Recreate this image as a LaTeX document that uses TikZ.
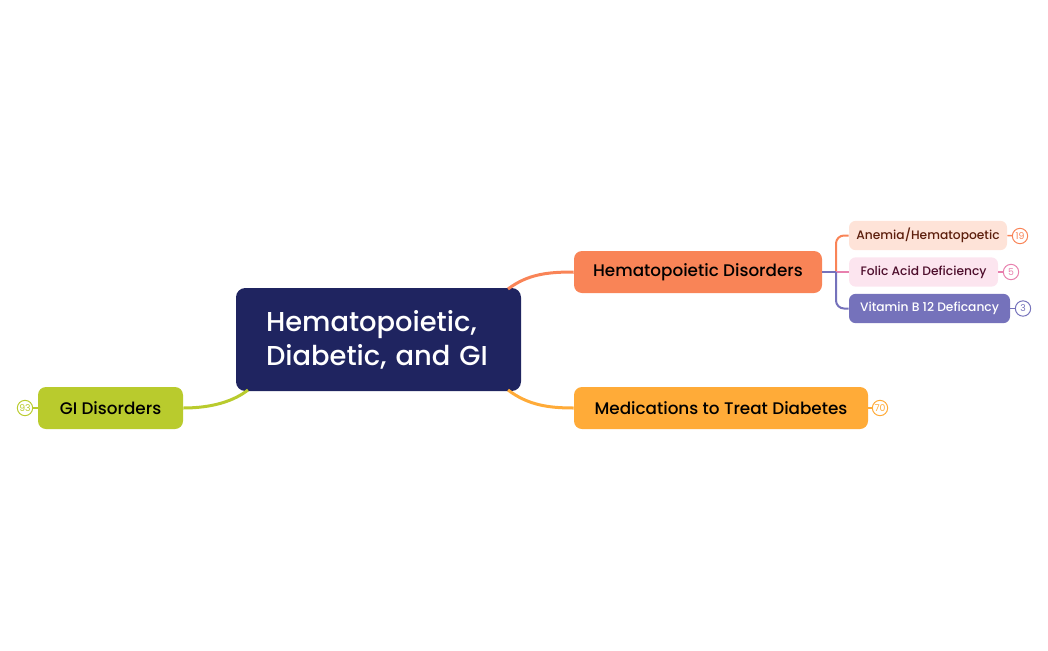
\documentclass[tikz,border=0pt]{standalone}
\usepackage{fontspec}
\setmainfont{Poppins}
\newfontfamily\mittel{Poppins Medium}
\definecolor{navy}{RGB}{31,36,96}
\definecolor{koralle}{RGB}{249,132,87}
\definecolor{orangeb}{RGB}{255,171,56}
\definecolor{limone}{RGB}{185,203,45}
\definecolor{pfirsich}{RGB}{254,227,216}
\definecolor{pfirsichtext}{RGB}{92,30,12}
\definecolor{rosa}{RGB}{252,229,239}
\definecolor{rosatext}{RGB}{77,13,43}
\definecolor{rosalinie}{RGB}{232,128,174}
\definecolor{lila}{RGB}{117,114,187}
\begin{document}
\begin{tikzpicture}[x=0.75pt,y=-0.75pt,
    haupt/.style={rounded corners=6pt,minimum height=31.5pt,inner xsep=0pt,font=\mittel\fontsize{12.6}{14}\selectfont},
    unter/.style={rounded corners=5pt,minimum height=22pt,inner xsep=0pt,font=\mittel\fontsize{9.2}{11}\selectfont},
    zahl/.style={circle,draw=#1,text=#1,line width=0.75pt,minimum size=11.5pt,inner sep=0pt,fill=white,font=\fontsize{7}{8}\selectfont},
    ast/.style={draw=#1,line width=2.25pt},
    zweig/.style={draw=#1,line width=1.5pt,rounded corners=6pt}]
    \useasboundingbox (0,0) rectangle (1048,650);
    % Mitte
    \node[fill=navy,text=white,rounded corners=7pt,minimum width=213.75pt,minimum height=77.25pt,
      text width=168.75pt,inner xsep=22.5pt,align=left,font=\mittel\fontsize{20.5}{25.5}\selectfont]
      (mitte) at (378.5,339.5) {Hematopoietic,\\Diabetic, and GI};
    % Hauptaeste
    \node[haupt,fill=koralle,minimum width=186pt] (hem) at (698,272) {Hematopoietic Disorders};
    \node[haupt,fill=orangeb,minimum width=220.5pt] (med) at (721,408) {Medications to Treat Diabetes};
    \node[haupt,fill=limone,minimum width=108.75pt] (gi) at (110.5,408) {GI Disorders};
    \coordinate (m1) at (508,289); \coordinate (m2) at (508,390); \coordinate (m3) at (248,390);
    \draw[ast=koralle] (m1) .. controls (528,274) and (548,272) .. (hem.west);
    \draw[ast=orangeb] (m2) .. controls (528,405) and (548,408) .. (med.west);
    \draw[ast=limone] (m3) .. controls (230,404) and (205,408) .. (gi.east);
    % Unteraeste
    \node[unter,fill=pfirsich,text=pfirsichtext,minimum width=118.5pt] (anae) at (928,235.5) {Anemia/Hematopoetic};
    \node[unter,fill=rosa,text=rosatext,minimum width=111.75pt] (fol) at (923.5,272) {Folic Acid Deficiency};
    \node[unter,fill=lila,text=white,minimum width=120.75pt] (vit) at (929.5,308.5) {Vitamin B 12 Deficancy};
    \coordinate (gabel) at (836,272);
    \draw[zweig=koralle] (gabel) |- (anae.west);
    \draw[zweig=rosalinie] (gabel) -- (fol.west);
    \draw[zweig=lila] (gabel) |- (vit.west);
    \draw[zweig=lila] (hem.east) -- (gabel);
    % Zahlen
    \node[zahl=koralle] (z19) at (1020,236) {19};
    \node[zahl=rosalinie] (z5) at (1011,272) {5};
    \node[zahl=lila] (z3) at (1023,308.5) {3};
    \node[zahl=orangeb] (z70) at (880,408) {70};
    \node[zahl=limone] (z93) at (25,408) {93};
    \draw[koralle,line width=1.1pt] (anae.east) -- (z19);
    \draw[rosalinie,line width=1.1pt] (fol.east) -- (z5);
    \draw[lila,line width=1.1pt] (vit.east) -- (z3);
    \draw[orangeb,line width=1.1pt] (med.east) -- (z70);
    \draw[limone,line width=1.1pt] (gi.west) -- (z93);
  \end{tikzpicture}
\end{document}
